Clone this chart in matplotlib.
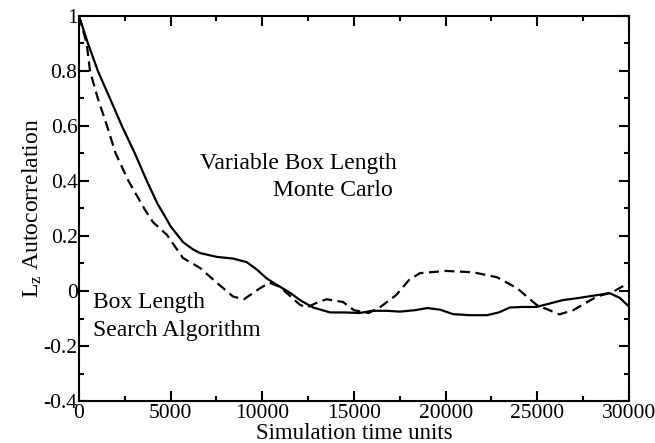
import matplotlib
matplotlib.use("Agg")
import matplotlib.pyplot as plt
from matplotlib.ticker import MultipleLocator

plt.rcParams['font.family'] = ['Liberation Serif', 'DejaVu Serif']
plt.rcParams['mathtext.fontset'] = 'custom'
plt.rcParams['mathtext.rm'] = 'Liberation Serif'

# Variable Box Length Monte Carlo (solid)
t_vbl = [0, 490, 1030, 1690, 2340, 3050, 3700, 4300, 4580, 5000, 5670, 6200, 6600, 7520,
         8400, 9150, 9700, 10250, 10900, 11500, 12100, 12770, 13700, 14500, 15300,
         16000, 16800, 17500, 18300, 19000, 19700, 20400, 21300, 22250, 22900,
         23500, 24200, 24950, 25700, 26400, 27300, 28250, 28950, 29500, 30000]
c_vbl = [1.0, 0.9, 0.8, 0.7, 0.6, 0.5, 0.4, 0.315, 0.284, 0.235, 0.178, 0.152, 0.138, 0.124,
         0.118, 0.105, 0.078, 0.045, 0.018, -0.006, -0.035, -0.06, -0.078, -0.078, -0.08,
         -0.072, -0.072, -0.075, -0.07, -0.062, -0.068, -0.084, -0.088, -0.088, -0.078,
         -0.06, -0.058, -0.058, -0.045, -0.033, -0.025, -0.015, -0.008, -0.025, -0.057]

# Box Length Search Algorithm (dashed)
t_bls = [0, 420, 600, 1030, 1530, 2000, 2700, 3600, 4040, 4800, 5670, 6600, 7520,
         8400, 9000, 9870, 10400, 10960, 12050, 12420, 12900, 13500, 14400, 15000,
         15800, 16400, 17300, 18000, 18600, 20000, 21500, 22800, 23900, 24950,
         26200, 26950, 28250, 29100, 30000]
c_bls = [1.0, 0.9, 0.8, 0.7, 0.6, 0.5, 0.4, 0.295, 0.25, 0.204, 0.12, 0.084, 0.03,
         -0.02, -0.03, 0.01, 0.03, 0.015, -0.05, -0.06, -0.045, -0.03, -0.04, -0.07,
         -0.08, -0.06, -0.015, 0.04, 0.065, 0.073, 0.068, 0.05, 0.01, -0.05,
         -0.085, -0.07, -0.02, -0.004, 0.03]

fig = plt.figure(figsize=(6.55, 4.43), dpi=100)
ax = fig.add_axes([0.1206, 0.0948, 0.8397, 0.8691])

ax.plot(t_vbl, c_vbl, color='black', lw=1.6)
ax.plot(t_bls, c_bls, color='black', lw=1.6, dashes=(4.5, 2.5))

ax.set_xlim(0, 30000)
ax.set_ylim(-0.4, 1.0)
ax.xaxis.set_major_locator(MultipleLocator(5000))
ax.xaxis.set_minor_locator(MultipleLocator(2500))
ax.yaxis.set_minor_locator(MultipleLocator(0.1))
ax.set_yticks([-0.4, -0.2, 0, 0.2, 0.4, 0.6, 0.8, 1.0])
ax.set_yticklabels(['-0.4', '-0.2', '0', '0.2', '0.4', '0.6', '0.8', '1'])

ax.tick_params(which='both', direction='in', top=True, right=True, width=1.5,
               labelsize=15.5, pad=1)
ax.tick_params(axis='x', which='both', pad=2.5)
ax.tick_params(which='major', length=7)
ax.tick_params(which='minor', length=3.5)
for s in ax.spines.values():
    s.set_linewidth(1.5)

ax.set_xlabel('Simulation time units', fontsize=16.5, labelpad=-0.5)
ax.set_ylabel(r'$\mathregular{L_z}$ Autocorrelation', fontsize=17, labelpad=0)

ax.text(11950, 0.465, 'Variable Box Length', fontsize=17, ha='center', va='center')
ax.text(17130, 0.367, 'Monte Carlo', fontsize=17, ha='right', va='center')
ax.text(760, -0.04, 'Box Length', fontsize=17, ha='left', va='center')
ax.text(760, -0.142, 'Search Algorithm', fontsize=17, ha='left', va='center')

fig.savefig('out.png', dpi=100)
